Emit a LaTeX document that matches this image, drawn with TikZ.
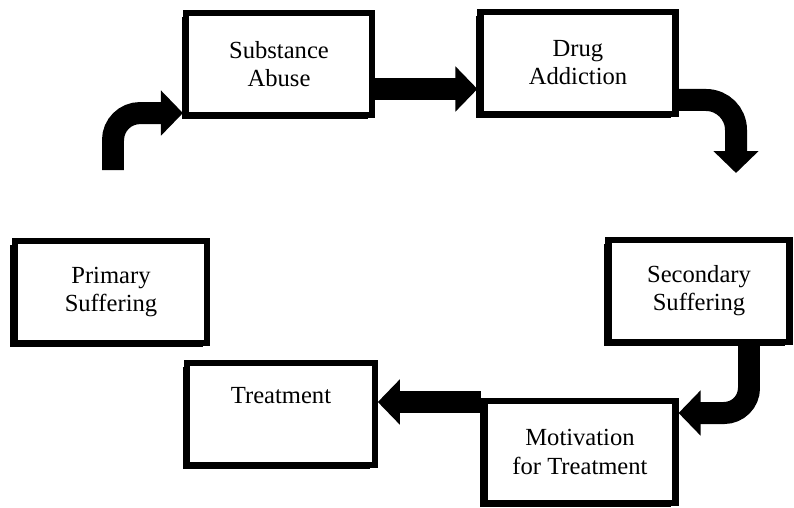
\documentclass[tikz,border=0pt]{standalone}
\usepackage{fontspec}
\setmainfont{Liberation Serif}
\usetikzlibrary{arrows.meta}

\begin{document}
\begin{tikzpicture}[
      x=0.02cm, y=-0.02cm,
      % The boxes of the cycle:
      stage/.style={rectangle, draw, line width=3.5pt, fill=white,
        minimum width=3.72cm, minimum height=2.04cm, align=center,
        font=\fontsize{14}{16}\selectfont,
        preaction={fill=black, transform canvas={shift={(-2.5pt,-2.5pt)}}}},
      bigarrow/.style={draw, line width=0.44cm,
        -{Triangle[width=0.88cm, length=0.44cm]}},
  ]
  \useasboundingbox (0,0) rectangle (794,507);

  %%%%%%%%%%%%%%%%%%%%%%%%%%%%%%%%%%%%%%%%%%%%%%%%%%%%%%%%
  % (1) TOP ROW
  %%%%%%%%%%%%%%%%%%%%%%%%%%%%%%%%%%%%%%%%%%%%%%%%%%%%%%%%
  \node[stage] (sub)  at (279,64) {Substance\\Abuse};
  \node[stage, minimum width=3.9cm] (drug) at (578,63) {Drug\\Addiction};

  %%%%%%%%%%%%%%%%%%%%%%%%%%%%%%%%%%%%%%%%%%%%%%%%%%%%%%%%
  % (2) MIDDLE ROW
  %%%%%%%%%%%%%%%%%%%%%%%%%%%%%%%%%%%%%%%%%%%%%%%%%%%%%%%%
  \node[stage, minimum width=3.85cm] (prim) at (111,292) {Primary\\Suffering};
  \node[stage, minimum width=3.62cm] (sec)  at (699,291) {Secondary\\Suffering};

  %%%%%%%%%%%%%%%%%%%%%%%%%%%%%%%%%%%%%%%%%%%%%%%%%%%%%%%%
  % (3) BOTTOM ROW
  %%%%%%%%%%%%%%%%%%%%%%%%%%%%%%%%%%%%%%%%%%%%%%%%%%%%%%%%
  \node[stage, minimum width=3.75cm] (treat) at (281,414) {Treatment\\ \strut};
  \node[stage, minimum width=3.82cm] (motiv) at (580,452) {Motivation\\for Treatment};

  %%%%%%%%%%%%%%%%%%%%%%%%%%%%%%%%%%%%%%%%%%%%%%%%%%%%%%%%
  % ARROWS round the cycle
  %%%%%%%%%%%%%%%%%%%%%%%%%%%%%%%%%%%%%%%%%%%%%%%%%%%%%%%%
  \coordinate (riseStart) at (113,170);
  \draw[bigarrow, rounded corners=0.54cm]
    (riseStart) |- ([yshift=0.1cm]sub.south west);

  \coordinate (abuseOut) at ([yshift=-0.5cm]sub.east);
  \draw[bigarrow] (abuseOut) -- (abuseOut -| drug.west);

  \coordinate (dropEnd) at (736,173);
  \draw[bigarrow, rounded corners=0.6cm]
    ([yshift=-0.74cm]drug.east) -| (dropEnd);

  \draw[bigarrow, rounded corners=0.5cm]
    ([xshift=1cm]sec.south) |- ([yshift=0.78cm]motiv.east);

  \coordinate (motivOut) at ([yshift=1cm]motiv.west);
  \draw[bigarrow] (motivOut) -- (motivOut -| treat.east);

\end{tikzpicture}
\end{document}
